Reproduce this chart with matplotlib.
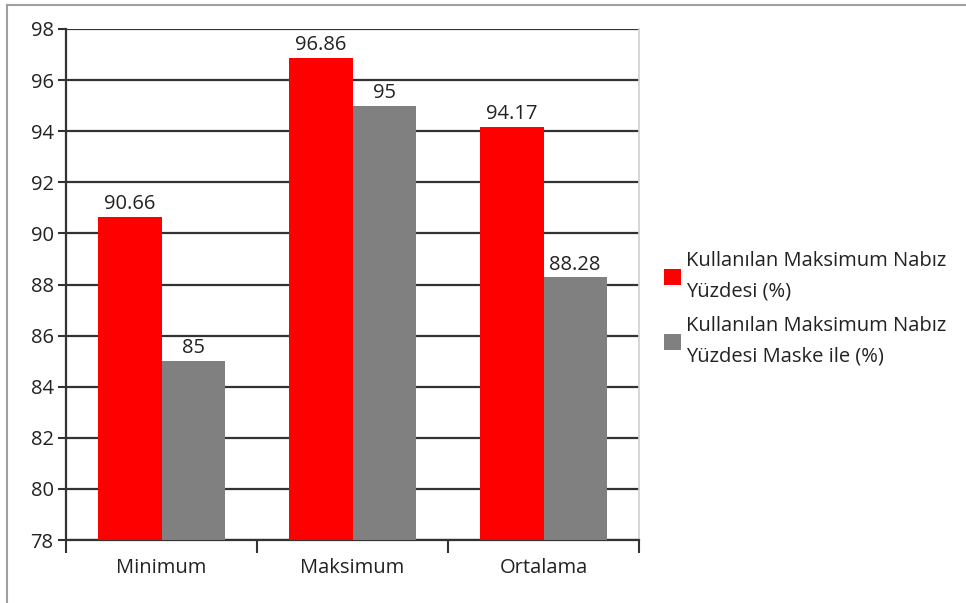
import matplotlib
matplotlib.use("Agg")
import matplotlib.pyplot as plt
import numpy as np

plt.rcParams['font.family'] = ['Open Sans', 'DejaVu Sans']

categories = ["Minimum", "Maksimum", "Ortalama"]
series_names = ["Kullanılan Maksimum Nabız\nYüzdesi (%)",
                "Kullanılan Maksimum Nabız\nYüzdesi Maske ile (%)"]
vals_plain = [90.66, 96.86, 94.17]
vals_mask = [85, 95, 88.28]
labels_plain = ["90.66", "96.86", "94.17"]
labels_mask = ["85", "95", "88.28"]
yticks = [78, 80, 82, 84, 86, 88, 90, 92, 94, 96, 98]
colors = ["#ff0000", "#808080"]
FS = 14.5

W, H = 966, 603
fig = plt.figure(figsize=(W / 100, H / 100), dpi=100)
ax = fig.add_axes([66 / W, 1 - 540 / H, (639 - 66) / W, (540 - 29) / H])

x = np.arange(len(categories))
bw = 0.33
b1 = ax.bar(x - bw / 2, vals_plain, bw, color=colors[0], zorder=3, label=series_names[0])
b2 = ax.bar(x + bw / 2, vals_mask, bw, color=colors[1], zorder=3, label=series_names[1])

ax.set_ylim(78, 98)
ax.set_xlim(-0.5, 2.5)
ax.set_yticks(yticks)
ax.set_yticklabels([str(v) for v in yticks], fontsize=FS, color="#222222")
ax.yaxis.grid(True, color="#333333", linewidth=1.6, zorder=0)
ax.set_axisbelow(True)

ax.set_xticks(x)
ax.set_xticklabels(categories, fontsize=FS, color="#222222")
ax.tick_params(axis='x', length=0, pad=13)
ax.set_xticks([-0.5, 0.5, 1.5, 2.5], minor=True)
ax.tick_params(axis='x', which='minor', length=9, width=1.5, color="#333333", direction='out')
ax.tick_params(axis='y', length=6, width=1.5, color="#333333", direction='out', pad=3)

ax.spines["top"].set_visible(False)
ax.spines["left"].set_color("#333333")
ax.spines["left"].set_linewidth(1.6)
ax.spines["bottom"].set_color("#333333")
ax.spines["bottom"].set_linewidth(1.6)
ax.spines["right"].set_color("#d0d0d0")
ax.spines["right"].set_linewidth(1.2)

for bars, labs in ((b1, labels_plain), (b2, labels_mask)):
    for rect, lab in zip(bars, labs):
        ax.annotate(lab, (rect.get_x() + rect.get_width() / 2, rect.get_height()),
                    xytext=(0, 2), textcoords="offset points", ha="center", va="bottom",
                    fontsize=FS, color="#222222")

leg = fig.legend(handles=[b1, b2], labels=series_names, loc="center left",
                 bbox_to_anchor=(646 / W, 1 - 309 / H), frameon=False, fontsize=FS,
                 handlelength=0.85, handleheight=0.85, handletextpad=0.25, labelspacing=0.7,
                 labelcolor="#222222")
for t in leg.get_texts():
    t.set_linespacing(1.73)

# figure border (top and left visible)
fig.add_artist(plt.Line2D([7 / W, 1], [1 - 5 / H, 1 - 5 / H], transform=fig.transFigure,
                          color="#a0a0a0", linewidth=1.5))
fig.add_artist(plt.Line2D([7 / W, 7 / W], [1 - 5 / H, 0], transform=fig.transFigure,
                          color="#a0a0a0", linewidth=1.5))

fig.savefig("out.png", dpi=100)
